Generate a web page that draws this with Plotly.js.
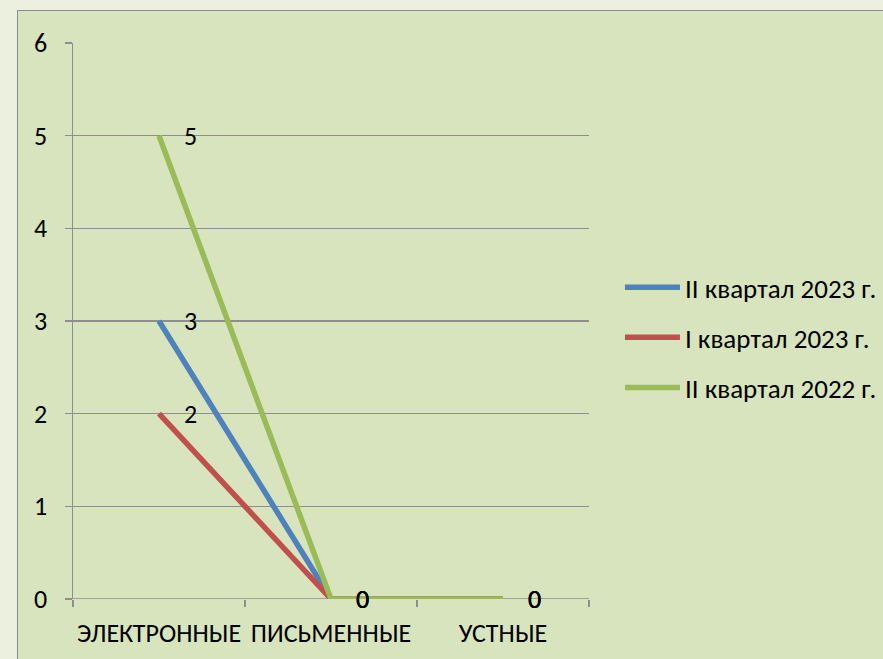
<!DOCTYPE html>
<html><head><meta charset="utf-8">
<script src="https://cdn.plot.ly/plotly-3.0.1.min.js"></script>
<style>
html,body{margin:0;padding:0;background:#EBF1DE;width:883px;height:659px;overflow:hidden;}
#wrap{position:absolute;left:17px;top:10px;width:866px;height:649px;border-left:1.5px solid #8E8E8E;border-top:1.5px solid #8E8E8E;box-sizing:border-box;}
#chart{width:866px;height:649px;}
</style></head>
<body><div id="wrap"><div id="chart"></div></div>
<script>
const categories = ["ЭЛЕКТРОННЫЕ", "ПИСЬМЕННЫЕ", "УСТНЫЕ"];
const seriesNames = ["II квартал 2023 г.", "I квартал 2023 г.", "II квартал 2022 г."];
const q2_2023 = [3, 0, 0];
const q1_2023 = [2, 0, 0];
const q2_2022 = [5, 0, 0];
const colors = ["#4F81BD", "#C0504D", "#9BBB59"];
const yTicks = [0, 1, 2, 3, 4, 5, 6];

const seriesVals = [q2_2023, q1_2023, q2_2022];
const FONT = "Carlito, 'Open Sans', 'Noto Sans', sans-serif";
const FS = 26;

const traces = seriesVals.map((vals, i) => ({
  type: 'scatter', mode: 'lines', x: categories, y: vals, name: seriesNames[i],
  line: {color: colors[i], width: 5.5}, legendgroup: 'g' + i
}));

const annotations = [];
seriesVals.forEach((vals) => {
  vals.forEach((v, j) => {
    annotations.push({x: categories[j], y: v, xref: 'x', yref: 'y', text: String(v),
      showarrow: false, xshift: 31, yshift: 0, font: {family: FONT, size: FS, color: '#000'}});
  });
});

const layout = {
  width: 866, height: 649,
  paper_bgcolor: '#D7E4BD', plot_bgcolor: '#D7E4BD',
  margin: {l: 55, r: 295, t: 32, b: 61, autoexpand: false},
  font: {family: FONT, size: FS, color: '#000'},
  xaxis: {type: 'category', range: [-0.5, 2.5], tickson: 'boundaries', ticks: 'outside', ticklen: 7,
    tickcolor: '#8E8E8E', tickwidth: 1.5, showgrid: false, showline: false, zeroline: false, tickangle: 0,
    ticklabelstandoff: 16, tickfont: {family: FONT, size: FS}, automargin: false},
  yaxis: {range: [0, 6], tickvals: yTicks, ticks: 'outside', ticklen: 7, tickcolor: '#8E8E8E', tickwidth: 1.5,
    showgrid: true, gridcolor: '#8E8E8E', gridwidth: 1.5, showline: true, linecolor: '#8E8E8E', linewidth: 1.5,
    zeroline: false, ticklabelstandoff: 12, tickfont: {family: FONT, size: FS}, automargin: false},
  showlegend: true,
  legend: {x: 1.06, xanchor: 'left', y: 0.47, yanchor: 'middle', bgcolor: 'rgba(0,0,0,0)',
    tracegroupgap: 12, itemwidth: 55, font: {family: FONT, size: 27}},
  annotations: annotations
};

layout.shapes = [{type: 'line', xref: 'paper', yref: 'y', x0: -0.013, x1: 1, y0: 0, y1: 0,
  line: {color: '#8E8E8E', width: 1.5}, layer: 'below'}];

Plotly.newPlot('chart', traces, layout, {displayModeBar: false, staticPlot: true});
</script></body></html>
